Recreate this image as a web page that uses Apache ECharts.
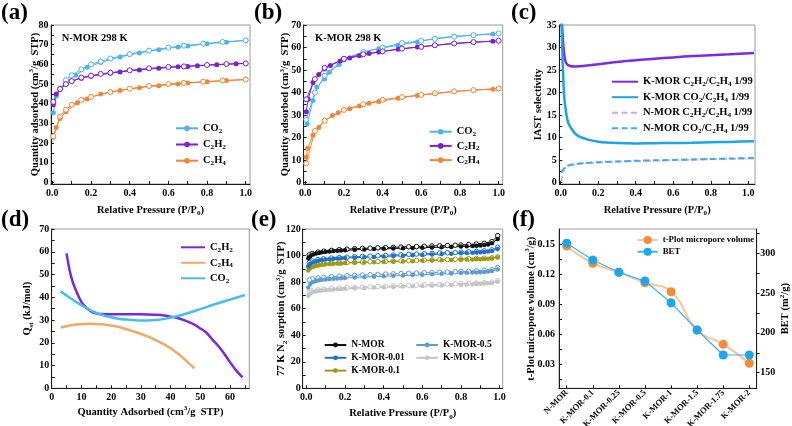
<!DOCTYPE html>
<html><head><meta charset="utf-8">
<script src="https://cdn.jsdelivr.net/npm/echarts@6/dist/echarts.min.js"></script>
<style>html,body{margin:0;padding:0;background:#fff}#c{width:792px;height:426px}</style>
</head><body><div id="c"></div>
<script>
// ---------- Panel (a): N-MOR 298 K ----------
const aCO2AdsX = [0.005,0.02,0.04,0.07,0.12,0.18,0.25,0.35,0.45,0.55,0.65,0.7,0.8,0.9,1.0];
const aCO2AdsY = [35.5,44,48,51,54.5,58.5,61,63.8,65.8,67.5,68.8,69.3,70.5,71.3,72.2];
const aCO2DesX = [1.0,0.88,0.78,0.68,0.6,0.5,0.4,0.3,0.25,0.2,0.15,0.1,0.07];
const aCO2DesY = [72.2,71.4,70.5,69.5,68.5,67,65.2,63,61.5,60,57.5,54.5,52];
const aC2H2AdsX = [0.005,0.02,0.04,0.07,0.1,0.15,0.2,0.3,0.35,0.45,0.55,0.65,0.7,0.75,0.85,0.95,1.0];
const aC2H2AdsY = [39.5,45,47.5,50,51.5,53,54,55.5,56.2,57.2,58,58.8,59,59.3,59.8,60.3,60.5];
const aC2H2DesX = [1.0,0.9,0.8,0.68,0.6,0.5,0.4,0.3,0.25,0.2,0.15,0.1,0.07,0.04,0.005];
const aC2H2DesY = [60.5,60.2,59.7,59,58.7,58,57,55.8,55.2,54.3,53.3,51.5,50,47.5,41];
const aC2H4AdsX = [0.005,0.02,0.04,0.07,0.13,0.18,0.25,0.35,0.45,0.55,0.65,0.7,0.8,0.9,1.0];
const aC2H4AdsY = [23,28,32.5,36,40.5,42.5,45,46.8,48.2,49.2,50,50.5,51.2,51.8,52.3];
const aC2H4DesX = [1.0,0.88,0.78,0.68,0.6,0.5,0.4,0.3,0.2,0.15,0.1,0.07,0.04,0.005];
const aC2H4DesY = [52.3,51.8,51.2,50.6,50,49,47.7,46,43.5,42,39.5,37,33.5,23.5];

// ---------- Panel (b): K-MOR 298 K ----------
const bCO2AdsX = [0.01,0.04,0.06,0.1,0.125,0.175,0.2,0.3,0.38,0.48,0.58,0.67,0.77,0.87,0.97];
const bCO2AdsY = [26,36.5,42.5,46,49,52.5,54.5,58,59.5,61,62.5,64,65,65.5,66];
const bCO2DesX = [1.0,0.87,0.77,0.67,0.6,0.5,0.4,0.3,0.2,0.1,0.05,0.005];
const bCO2DesY = [66.3,65.5,64.8,63.8,63,62,60,58,55,47.5,40,28];
const bC2H2AdsX = [0.005,0.015,0.04,0.07,0.1,0.13,0.18,0.23,0.28,0.33,0.38,0.48,0.58,0.67,0.77,0.87,0.97];
const bC2H2AdsY = [31.5,37,44.5,48,50.5,52,54,55.3,56.3,57.3,58,59.2,60.2,61,61.8,62.3,62.8];
const bC2H2DesX = [1.0,0.87,0.77,0.67,0.6,0.5,0.4,0.3,0.2,0.1,0.05,0.005];
const bC2H2DesY = [63,62.4,61.8,61,60.3,59.5,58.3,57,55,51,46,37];
const bC2H4AdsX = [0.005,0.012,0.04,0.07,0.1,0.14,0.17,0.23,0.28,0.33,0.38,0.48,0.58,0.67,0.77,0.87,0.97];
const bC2H4AdsY = [11.3,15.3,21,24.5,27.5,29.8,31,32.8,34,35.2,36,37.5,38.7,39.5,40.5,41,41.5];
const bC2H4DesX = [1.0,0.87,0.77,0.67,0.6,0.5,0.4,0.3,0.2,0.1,0.05,0.005];
const bC2H4DesY = [41.8,41.1,40.5,39.7,39,38,36.8,34.8,32.3,27.5,23,8.5];

// ---------- Panel (c): IAST selectivity ----------
const cKC2H2X = [0.005,0.01,0.015,0.02,0.03,0.05,0.08,0.12,0.2,0.3,0.4,0.5,0.6,0.7,0.8,0.9,1.03];
const cKC2H2Y = [36,33,30,28,26.5,25.9,25.8,25.9,26.3,26.8,27.2,27.5,27.8,28.1,28.3,28.5,28.8];
const cKCO2X = [0.004,0.008,0.012,0.016,0.02,0.03,0.04,0.06,0.08,0.1,0.15,0.2,0.3,0.4,0.5,0.6,0.7,0.8,0.9,1.03];
const cKCO2Y = [36,30,25,21,18.5,15.2,13.3,11.8,10.8,10.2,9.5,9.1,8.8,8.7,8.75,8.8,8.85,8.95,9.05,9.2];
const cNC2H2X = [0.003,0.008,0.015,0.025,0.04,0.07,0.1,0.2,0.3,0.4,0.5,0.6,0.7,0.8,0.9,1.03];
const cNC2H2Y = [0.2,1.5,2.6,3.3,3.7,4.0,4.2,4.5,4.65,4.8,4.9,5.0,5.1,5.2,5.3,5.4];
const cNCO2X = [0.003,0.008,0.015,0.025,0.04,0.07,0.1,0.2,0.3,0.4,0.5,0.6,0.7,0.8,0.9,1.03];
const cNCO2Y = [2.2,2.6,3.0,3.5,3.8,4.1,4.25,4.55,4.7,4.85,4.95,5.05,5.15,5.25,5.35,5.45];

// ---------- Panel (d): Qst ----------
const dC2H2X = [5,6,7,8,9,10,11,12,13,14,15,17,20,25,30,35,38,40,42,44,46,48,50,52,54,56,58,60,62,64.2];
const dC2H2Y = [59.3,52,47,43.5,40.5,38,36.3,35,34,33.3,32.9,32.6,32.5,32.5,32.5,32.3,32,31.5,31,30.2,29.2,28,26.3,24.5,21.5,18.7,15.3,11.5,8,4.8];
const dC2H4X = [3,5,7,9,11,13,15,17,20,23,26,29,32,35,38,40,42,44,46,48];
const dC2H4Y = [26.7,27.3,27.8,28.1,28.3,28.35,28.3,28.1,27.6,26.8,25.6,24.4,22.9,21.2,19.2,17.6,15.7,13.6,11.2,8.8];
const dCO2X = [3,5,7,9,11,13,15,17,20,23,26,29,32,35,38,41,44,47,50,53,56,59,62,65];
const dCO2Y = [42.6,40.8,39,37.3,35.8,34.4,33.2,32.2,31.2,30.5,30.1,29.8,29.8,30,30.5,31.3,32.3,33.5,34.8,36.1,37.4,38.6,39.8,41];

// ---------- Panel (e): 77 K N2 sorption ----------
const eAdsX = [0.01,0.02,0.035,0.05,0.065,0.08,0.1,0.12,0.14,0.16,0.18,0.2,0.25,0.3,0.35,0.4,0.45,0.5,0.55,0.6,0.65,0.7,0.75,0.8,0.83,0.86,0.88,0.9,0.92,0.94,0.96,0.99];
const eDesX = [0.99,0.96,0.92,0.88,0.84,0.8,0.77,0.73,0.69,0.65,0.61,0.57,0.53,0.49,0.45,0.41,0.37,0.33,0.29,0.25,0.21,0.17,0.13,0.09,0.06,0.03,0.015];
const eNAdsY = [98.0,99.5,100.8,101.5,102.0,102.4,102.8,103.1,103.4,103.6,103.8,104.0,104.3,104.6,104.9,105.1,105.3,105.5,105.7,105.9,106.1,106.3,106.5,106.8,107.0,107.2,107.4,107.6,107.9,108.4,109.3,112.5];
const eNDesY = [115.0,110.5,109.2,108.7,108.3,108.0,107.8,107.6,107.4,107.2,107.0,106.8,106.6,106.4,106.2,106.0,105.8,105.6,105.4,105.1,104.8,104.4,103.9,103.3,102.6,101.6,100.5];
const eK001AdsY = [92.0,93.8,95.0,95.7,96.2,96.6,97.0,97.3,97.5,97.7,97.9,98.1,98.4,98.7,99.0,99.3,99.6,99.9,100.2,100.5,100.8,101.1,101.4,101.7,101.9,102.1,102.3,102.5,102.7,103.0,103.5,105.0];
const eK001DesY = [106.2,104.3,103.5,103.1,102.8,102.5,102.3,102.1,101.9,101.6,101.4,101.1,100.9,100.6,100.4,100.1,99.9,99.6,99.4,99.1,98.8,98.5,98.1,97.6,97.0,96.0,94.8];
const eK01AdsY = [88.8,90.5,91.6,92.3,92.7,93.1,93.4,93.6,93.8,94.0,94.1,94.3,94.6,94.8,95.0,95.2,95.4,95.6,95.8,96.0,96.2,96.4,96.6,96.8,97.0,97.1,97.2,97.3,97.4,97.6,97.8,98.6];
const eK01DesY = [99.0,98.3,98.0,97.8,97.6,97.4,97.2,97.0,96.9,96.7,96.5,96.3,96.2,96.0,95.8,95.6,95.5,95.3,95.1,94.9,94.7,94.4,94.0,93.5,93.0,92.2,91.0];
const eK05AdsY = [76.0,78.5,80.0,80.8,81.3,81.7,82.0,82.3,82.5,82.7,82.9,83.1,83.5,83.8,84.1,84.4,84.7,85.0,85.3,85.6,85.9,86.2,86.5,86.8,87.0,87.2,87.3,87.5,87.7,88.0,88.4,89.5];
const eK05DesY = [91.0,89.3,88.8,88.5,88.2,88.0,87.8,87.6,87.4,87.2,87.0,86.8,86.6,86.4,86.2,86.0,85.8,85.6,85.4,85.1,84.8,84.5,84.1,83.6,83.1,82.4,81.6];
const eK1AdsY = [69.8,71.5,72.5,73.0,73.4,73.7,74.0,74.2,74.4,74.6,74.8,75.0,75.3,75.6,75.9,76.1,76.3,76.6,76.8,77.0,77.3,77.5,77.8,78.0,78.2,78.4,78.5,78.7,78.9,79.1,79.4,80.2];
const eK1DesY = [81.0,80.0,79.6,79.3,79.1,78.9,78.7,78.5,78.3,78.1,77.9,77.7,77.5,77.3,77.1,76.9,76.7,76.5,76.3,76.0,75.8,75.5,75.1,74.6,74.1,73.3,72.3];

// ---------- Panel (f): t-Plot & BET ----------
const fCats = ['N-MOR','K-MOR-0.1','K-MOR-0.25','K-MOR-0.5','K-MOR-1','K-MOR-1.5','K-MOR-1.75','K-MOR-2'];
const fTPlot = [0.148,0.1307,0.1217,0.1113,0.1023,0.064,0.0497,0.0307];
const fBET = [312.6,291.6,276.1,265.2,237.9,203.6,172.2,172.2];

// ---------- Tick labels ----------
const pXLabels = [0,0.2,0.4,0.6,0.8,1.0];
const pXTicks = [0,0.1,0.2,0.3,0.4,0.5,0.6,0.7,0.8,0.9,1.0];
const aYLabels = [0,10,20,30,40,50,60,70,80];
const aYTicks = [0,5,10,15,20,25,30,35,40,45,50,55,60,65,70,75,80];
const bYLabels = [0,10,20,30,40,50,60,70];
const bYTicks = [0,5,10,15,20,25,30,35,40,45,50,55,60,65,70];
const cYLabels = [0,5,10,15,20,25,30,35];
const cYTicks = [0,2.5,5,7.5,10,12.5,15,17.5,20,22.5,25,27.5,30,32.5,35];
const dXLabels = [0,10,20,30,40,50,60];
const dXTicks = [0,5,10,15,20,25,30,35,40,45,50,55,60,65];
const dYLabels = [0,10,20,30,40,50,60,70];
const dYTicks = [0,5,10,15,20,25,30,35,40,45,50,55,60,65,70];
const eYLabels = [0,20,40,60,80,100,120];
const eYTicks = [0,10,20,30,40,50,60,70,80,90,100,110,120];
const fXTicks = [0,1,2,3,4,5,6,7];
const fYLLabels = [0.03,0.06,0.09,0.12,0.15];
const fYLTicks = [0.015,0.03,0.045,0.06,0.075,0.09,0.105,0.12,0.135,0.15];
const fYRLabels = [150,200,250,300];
const fYRTicks = [150,175,200,225,250,275,300,325];

// ---------- Styling helpers ----------
const FONT = '"Liberation Serif","Times New Roman",Times,serif';
const AX = '#1a1a1a';
function richSet(fs){
  const s = Math.round(fs*0.68*10)/10;
  return {
    s:{fontSize:s, lineHeight:s, fontFamily:FONT, fontWeight:'bold', color:'#000', verticalAlign:'bottom'},
    p:{fontSize:s, lineHeight:s, fontFamily:FONT, fontWeight:'bold', color:'#000', verticalAlign:'top'}
  };
}
function txt(fs, lh){
  return {fontFamily:FONT, fontWeight:'bold', fontSize:fs, color:'#000', lineHeight: lh || Math.round(fs*1.3), rich: richSet(fs)};
}
function axis(gi, min, max, labels, ticks, fmt, p){
  p = p || {};
  return {
    type:'value', gridIndex:gi, min:min, max:max, position:p.position,
    axisLine:{show:true, onZero:false, lineStyle:{color:AX, width:1}},
    axisTick:{show:true, inside:!p.outTick, length:3, customValues:ticks, lineStyle:{color:AX, width:1}},
    axisLabel:{show:true, customValues:labels, formatter:fmt, margin:(p.margin==null?3:p.margin), rotate:p.rotate||0,
      fontSize:p.fs||10, fontFamily:FONT, fontWeight:'bold', color:'#000', hideOverlap:false},
    splitLine:{show:false}, minorTick:{show:false},
    name:p.name||'', nameLocation:'middle', nameGap:p.nameGap||0, nameMoveOverlap:false,
    nameTextStyle:txt(10.5, 14)
  };
}
const f1 = v => v.toFixed(1);
const f0 = v => String(Math.round(v));
const f2 = v => v.toFixed(2);
const RP = 'Relative Pressure (P/P{s|0})';

function xy(xs, ys){ return xs.map((x,i)=>[x, ys[i]]); }
function ads(name, gi, xs, ys, c, size){
  return {type:'line', name, xAxisIndex:gi, yAxisIndex:gi, data:xy(xs,ys), symbol:'circle', symbolSize:size,
    showSymbol:true, itemStyle:{color:c}, lineStyle:{color:c, width:1}, emphasis:{disabled:true}, silent:true};
}
function des(name, gi, xs, ys, c, size){
  return {type:'line', name, xAxisIndex:gi, yAxisIndex:gi, data:xy(xs,ys), symbol:'circle', symbolSize:size,
    showSymbol:true, itemStyle:{color:'#fff', borderColor:c, borderWidth:1}, lineStyle:{color:c, width:1}, emphasis:{disabled:true}, silent:true};
}
function curve(name, gi, xs, ys, c, w, dashed, smooth){
  return {type:'line', name, xAxisIndex:gi, yAxisIndex:gi, data:xy(xs,ys), symbol:'none', smooth:smooth,
    lineStyle:{color:c, width:w, type: dashed ? [6,3.5] : 'solid'}, itemStyle:{color:c}, emphasis:{disabled:true}, silent:true};
}

const C_CO2 = '#4BB4F0', C_C2H2 = '#7A1FD6', C_C2H4 = '#F28535';
const E_COL = ['#111111','#1F6FD1','#9C9A12','#5E9CD6','#C4C4C4'];

const legendFmt = name => name.split('|')[1].replace(/([A-Za-z])(\d)/g, '$1{s|$2}');
function legend(left, top, data, iw, ih, gap, fs, lh, hideSym){
  const l = {left, top, orient:'vertical', padding:0, itemWidth:iw, itemHeight:ih, itemGap:gap, data,
    formatter:legendFmt, textStyle:txt(fs, lh), selectedMode:false};
  if (hideSym) l.itemStyle = {opacity:0};
  return l;
}

const gridBase = {show:true, borderColor:'#9a9a9a', borderWidth:1, backgroundColor:'transparent', containLabel:false, outerBoundsMode:'none'};
const grids = [
  {left:51, top:25, width:199, height:159},
  {left:303.7, top:25, width:199, height:159},
  {left:559.3, top:25, width:195.7, height:159},
  {left:51.7, top:229, width:197.6, height:159.3},
  {left:302.7, top:229, width:200, height:159.3},
  {left:559, top:229, width:197.7, height:159.3}
].map(g => Object.assign({}, gridBase, g));

const xAxes = [
  axis(0, -0.007, 1.022, pXLabels, pXTicks, f1, {position:'bottom', margin:4, name:RP, nameGap:19}),
  axis(1, -0.008, 1.021, pXLabels, pXTicks, f1, {position:'bottom', margin:4, name:RP, nameGap:19}),
  axis(2, -0.0075, 1.0357, pXLabels, pXTicks, f1, {position:'bottom', margin:4, name:RP, nameGap:19}),
  axis(3, 0, 66.5, dXLabels, dXTicks, f0, {position:'bottom', margin:4, name:'Quantity Adsorbed (cm{p|3}/g  STP)', nameGap:16.5}),
  axis(4, -0.019, 1.016, pXLabels, pXTicks, f1, {position:'bottom', margin:4, name:RP, nameGap:18}),
  axis(5, -0.295, 7.284, fXTicks, fXTicks, v => fCats[Math.round(v)], {position:'bottom', margin:3, rotate:45, fs:8.6})
];
const yAxes = [
  axis(0, -0.7, 80, aYLabels, aYTicks, f0, {position:'left', margin:2.5, name:'Quantity adsorbed (cm{p|3}/g  STP)', nameGap:9}),
  axis(1, -0.6, 70, bYLabels, bYTicks, f0, {position:'left', margin:2.5, name:'Quantity adsorbed (cm{p|3}/g  STP)', nameGap:11.4}),
  axis(2, -0.3, 35, cYLabels, cYTicks, f0, {position:'left', margin:2.5, name:'IAST selectivity', nameGap:14}),
  axis(3, 0, 70, dYLabels, dYTicks, f0, {position:'left', margin:2.5, name:'Q{s|st} (kJ/mol)', nameGap:17}),
  axis(4, 0, 120, eYLabels, eYTicks, f0, {position:'left', margin:2, name:'77 K N{s|2} sorption (cm{p|3}/g  STP)', nameGap:14.5}),
  axis(5, 0.0057, 0.165, fYLLabels, fYLTicks, f2, {position:'left', margin:4, name:'t-Plot micropore volume (cm{p|3}/g)', nameGap:21}),
  axis(5, 130.4, 330.5, fYRLabels, fYRTicks, f0, {position:'right', margin:3.5, outTick:true, name:'BET (m{p|2}/g)', nameGap:22})
];

const series = [
  // (a)
  ads('a|CO2', 0, aCO2AdsX, aCO2AdsY, C_CO2, 5), des('a|CO2 d', 0, aCO2DesX, aCO2DesY, C_CO2, 5),
  ads('a|C2H2', 0, aC2H2AdsX, aC2H2AdsY, C_C2H2, 5), des('a|C2H2 d', 0, aC2H2DesX, aC2H2DesY, C_C2H2, 5),
  ads('a|C2H4', 0, aC2H4AdsX, aC2H4AdsY, C_C2H4, 5), des('a|C2H4 d', 0, aC2H4DesX, aC2H4DesY, C_C2H4, 5),
  // (b)
  ads('b|CO2', 1, bCO2AdsX, bCO2AdsY, C_CO2, 5), des('b|CO2 d', 1, bCO2DesX, bCO2DesY, C_CO2, 5),
  ads('b|C2H2', 1, bC2H2AdsX, bC2H2AdsY, C_C2H2, 5), des('b|C2H2 d', 1, bC2H2DesX, bC2H2DesY, C_C2H2, 5),
  ads('b|C2H4', 1, bC2H4AdsX, bC2H4AdsY, C_C2H4, 5), des('b|C2H4 d', 1, bC2H4DesX, bC2H4DesY, C_C2H4, 5),
  // (c)
  curve('c|N-MOR C2H2/C2H4 1/99', 2, cNC2H2X, cNC2H2Y, '#D9A6EA', 2, true, 0.3),
  curve('c|N-MOR CO2/C2H4 1/99', 2, cNCO2X, cNCO2Y, '#3BAFE8', 2, true, 0.3),
  curve('c|K-MOR C2H2/C2H4 1/99', 2, cKC2H2X, cKC2H2Y, '#7C2AE8', 2.5, false, 0.3),
  curve('c|K-MOR CO2/C2H4 1/99', 2, cKCO2X, cKCO2Y, '#1AA3F0', 2.5, false, 0.3),
  // (d)
  curve('d|C2H2', 3, dC2H2X, dC2H2Y, '#7D25E6', 2.5, false, 0.4),
  curve('d|C2H4', 3, dC2H4X, dC2H4Y, '#F6A764', 2.5, false, 0.4),
  curve('d|CO2', 3, dCO2X, dCO2Y, '#45BDF2', 2.5, false, 0.4),
  // (e)
  des('e|K-MOR-1 d', 4, eDesX, eK1DesY, E_COL[4], 4.5), ads('e|K-MOR-1', 4, eAdsX, eK1AdsY, E_COL[4], 4.5),
  des('e|K-MOR-0.5 d', 4, eDesX, eK05DesY, E_COL[3], 4.5), ads('e|K-MOR-0.5', 4, eAdsX, eK05AdsY, E_COL[3], 4.5),
  des('e|K-MOR-0.1 d', 4, eDesX, eK01DesY, E_COL[2], 4.5), ads('e|K-MOR-0.1', 4, eAdsX, eK01AdsY, E_COL[2], 4.5),
  des('e|K-MOR-0.01 d', 4, eDesX, eK001DesY, E_COL[1], 4.5), ads('e|K-MOR-0.01', 4, eAdsX, eK001AdsY, E_COL[1], 4.5),
  des('e|N-MOR d', 4, eDesX, eNDesY, E_COL[0], 4.5), ads('e|N-MOR', 4, eAdsX, eNAdsY, E_COL[0], 4.5),
  // (f)
  {type:'line', name:'f|t-Plot micropore volume', xAxisIndex:5, yAxisIndex:5, data:fTPlot.map((v,i)=>[i,v]), smooth:true,
   symbol:'circle', symbolSize:9, itemStyle:{color:'#F28C36'}, lineStyle:{color:'#F8C79E', width:2.2}, emphasis:{disabled:true}, silent:true},
  {type:'line', name:'f|BET', xAxisIndex:5, yAxisIndex:6, data:fBET.map((v,i)=>[i,v]),
   symbol:'circle', symbolSize:9, itemStyle:{color:'#1AA7EE'}, lineStyle:{color:'#3DB2EE', width:1.2}, emphasis:{disabled:true}, silent:true}
];

const legends = [
  legend(175, 122.3, ['a|CO2','a|C2H2','a|C2H4'], 22, 7, 4.2, 10.5, 12),
  legend(428.7, 125.7, ['b|CO2','b|C2H2','b|C2H4'], 22, 7, 2.2, 10.5, 12),
  legend(611, 75.7, ['c|K-MOR C2H2/C2H4 1/99','c|K-MOR CO2/C2H4 1/99','c|N-MOR C2H2/C2H4 1/99','c|N-MOR CO2/C2H4 1/99'], 26, 10, 3.5, 10.5, 12, true),
  legend(180, 241.3, ['d|C2H2','d|C2H4','d|CO2'], 24, 10, 3.5, 10.5, 12, true),
  legend(323.7, 339.5, ['e|N-MOR','e|K-MOR-0.01','e|K-MOR-0.1'], 21.6, 6, 1.8, 9.5, 11),
  legend(415.3, 339.5, ['e|K-MOR-0.5','e|K-MOR-1'], 21.6, 6, 1.8, 9.5, 11),
  legend(636.7, 234.5, ['f|t-Plot micropore volume','f|BET'], 20, 10, 0.7, 8.8, 11)
];

const big = {fontFamily:FONT, fontWeight:'bold', fontSize:23, color:'#000'};
const small = {fontFamily:FONT, fontWeight:'bold', fontSize:10.5, color:'#000'};
const titles = [
  {text:'(a)', left:1, top:2, padding:0, textStyle:big},
  {text:'(b)', left:254, top:2, padding:0, textStyle:big},
  {text:'(c)', left:511, top:2, padding:0, textStyle:big},
  {text:'(d)', left:1, top:208.7, padding:0, textStyle:big},
  {text:'(e)', left:251, top:208.7, padding:0, textStyle:big},
  {text:'(f)', left:512, top:208.7, padding:0, textStyle:big},
  {text:'N-MOR 298 K', left:61.7, top:32.5, padding:0, textStyle:small},
  {text:'K-MOR 298 K', left:315, top:32.5, padding:0, textStyle:small}
];

const chart = echarts.init(document.getElementById('c'), null, {renderer:'canvas', width:792, height:426});
chart.setOption({
  backgroundColor:'#fff', animation:false,
  textStyle:{fontFamily:FONT, fontWeight:'bold'},
  title:titles, legend:legends, grid:grids, xAxis:xAxes, yAxis:yAxes, series:series, tooltip:{show:false}
});
</script></body></html>
